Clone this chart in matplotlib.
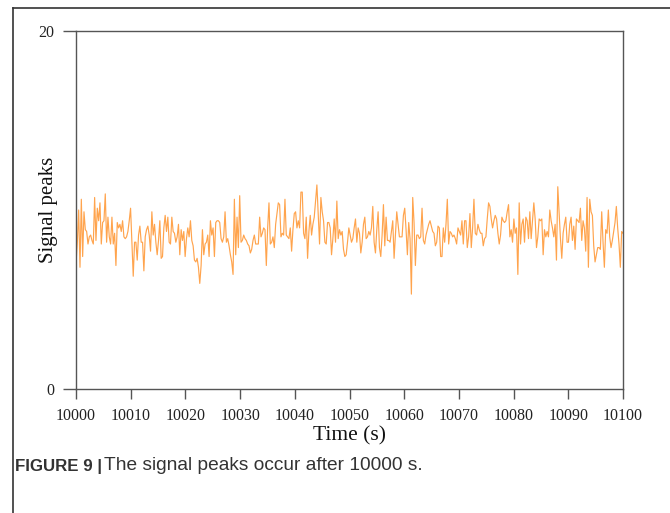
import numpy as np
import matplotlib
matplotlib.use("Agg")
import matplotlib.pyplot as plt
from matplotlib.lines import Line2D

# ---- data ----
t_start, t_end = 10000, 10100
signal_a = [
    7.0, 8.2, 10.0, 6.8, 10.6, 7.4, 9.9, 8.9, 8.8, 8.1,
    8.5, 8.6, 8.3, 8.1, 10.7, 8.3, 10.1, 9.4, 10.4, 8.1,
    9.3, 9.4, 10.9, 8.2, 9.6, 8.5, 8.1, 9.6, 8.1, 8.7,
    6.9, 9.3, 9.0, 9.2, 8.8, 9.4, 8.5, 8.4, 8.5, 8.8,
    9.4, 10.1, 8.2, 6.3, 8.2, 8.2, 7.2, 8.6, 9.1, 8.2,
    8.2, 6.6, 8.5, 8.9, 9.1, 8.6, 7.7, 9.9, 8.6, 9.2,
    8.2, 7.5, 8.3, 9.4, 7.3, 7.4, 9.0, 9.7, 8.8, 9.6,
    8.2, 8.1, 9.6, 8.8, 8.7, 8.2, 8.5, 9.2, 7.5, 8.9,
    8.3, 8.8, 7.4, 8.4, 9.0, 8.5, 9.4, 8.3, 8.0, 7.2,
    7.1, 7.3, 6.8, 5.9, 6.9, 8.9, 7.5, 8.1, 8.2, 8.6,
    7.4, 9.4, 8.6, 9.0, 7.4, 9.3, 9.4, 9.4, 9.3, 8.4,
    8.2, 8.5, 9.9, 8.2, 8.4, 8.0, 7.5, 7.1, 6.4, 10.6,
    7.5, 9.6, 7.9, 10.8, 8.2, 8.3, 8.6, 8.4, 8.3, 8.1,
    8.0, 7.6, 7.8, 8.3, 8.6, 8.1, 8.1,
]
signal_b = [
    8.1, 9.6, 8.5, 8.7, 9.0, 8.9, 6.9, 9.0, 10.4, 8.1,
    8.2, 8.5, 7.9, 9.2, 9.8, 10.4, 10.3, 8.5, 8.7, 8.6,
    10.6, 8.6, 8.5, 8.4, 9.0, 7.7, 8.9, 9.8, 9.9, 9.0,
    9.4, 9.0, 11.0, 11.0, 8.7, 8.4, 9.6, 7.3, 8.8, 9.7,
    8.6, 9.2, 9.6, 10.5, 11.4, 9.7, 8.1, 10.7, 9.9, 9.4,
    8.2, 8.1, 9.3, 9.3, 9.0, 7.5, 8.4, 9.5, 8.2, 10.5,
    8.4, 8.9, 8.6, 8.8, 7.8, 7.4, 7.5, 8.2, 9.0, 8.6,
    8.2, 8.4, 9.0, 9.5, 8.2, 9.0, 8.7, 7.6, 8.2, 9.2,
    9.6, 8.4, 8.5, 8.8, 8.6, 9.0, 10.2, 8.2, 7.6, 8.9,
    9.9, 7.9, 7.4, 8.6, 10.3, 8.0, 9.6, 8.3, 8.3, 8.2,
    8.8, 9.4, 7.3, 8.6, 9.9, 9.2, 8.5, 8.5, 8.5, 9.7,
    10.1, 8.9, 7.5, 9.3, 8.4, 5.3, 10.7, 9.3, 6.9, 8.6,
    8.6, 8.4, 8.5, 10.1, 8.3, 8.1, 8.6, 8.9, 9.2, 9.4,
    9.1, 8.8, 8.7, 8.0, 8.2, 9.1, 9.0, 7.4,
]
signal_c = [
    7.4, 9.0, 8.2, 9.2, 10.6, 8.1, 8.8, 8.7, 8.5, 8.6,
    8.4, 8.1, 9.0, 8.8, 8.6, 9.4, 8.1, 9.4, 9.4, 7.9,
    8.5, 9.8, 7.9, 9.0, 10.6, 8.7, 8.6, 9.2, 8.9, 8.7,
    8.7, 8.0, 8.4, 8.5, 9.5, 10.4, 10.2, 9.5, 9.0, 9.4,
    9.7, 9.5, 8.7, 8.1, 8.6, 9.6, 9.4, 9.3, 9.4, 9.9,
    10.3, 8.5, 8.9, 8.2, 9.5, 8.7, 9.0, 6.4, 10.4, 8.1,
    9.2, 9.5, 8.2, 9.6, 9.4, 8.4, 9.9, 8.4, 9.4, 10.4,
    9.5, 7.9, 8.5, 9.5, 9.4, 9.5, 7.5, 8.9, 8.5, 8.8,
    8.5, 10.0, 9.4, 9.0, 8.5, 9.2, 7.2, 11.3, 9.8, 8.4,
    7.3, 8.7, 9.2, 9.6, 8.2, 8.2, 9.2, 9.6, 8.3, 9.1,
    7.8, 9.5, 9.4, 9.3, 10.1, 8.3, 9.4, 9.0, 7.7, 10.7,
    6.8, 10.6, 9.9, 9.7, 8.0, 7.1, 7.5, 7.9, 7.9, 7.8,
    9.9, 8.2, 6.8, 8.9, 8.7, 10.0, 8.5, 7.9, 8.3, 8.8,
    9.3, 10.2, 9.0, 8.1, 6.8, 8.8, 8.7,
]
signal = signal_a + signal_b + signal_c
time = np.linspace(t_start, t_end, len(signal))

x_ticks = [10000, 10010, 10020, 10030, 10040, 10050, 10060, 10070, 10080, 10090, 10100]
y_ticks = [0, 20]
x_label = "Time (s)"
y_label = "Signal peaks"
caption_bold = "FIGURE 9 |"
caption_text = "The signal peaks occur after 10000 s."

# ---- figure ----
W, H = 670, 513
fig = plt.figure(figsize=(W / 100, H / 100), dpi=100)
ax = fig.add_axes([76 / W, 1 - 389 / H, (623 - 76) / W, (389 - 31) / H])

ax.plot(time, signal, color="#ff9a3a", lw=0.85, alpha=0.9)

ax.set_xlim(t_start, t_end)
ax.set_ylim(0, 20)
ax.set_xticks(x_ticks)
ax.set_yticks(y_ticks)

serif = ["Liberation Serif", "DejaVu Serif"]
spine_col = "#555555"
for s in ax.spines.values():
    s.set_color(spine_col)
    s.set_linewidth(1.0)
ax.tick_params(axis="x", direction="out", length=7, width=1, color=spine_col, pad=7)
ax.tick_params(axis="y", direction="out", length=9.5, width=1, color=spine_col, pad=6)
for lab in ax.get_xticklabels() + ax.get_yticklabels():
    lab.set_fontfamily(serif)
    lab.set_fontsize(11.5)
    lab.set_color("#222222")

ax.set_xlabel(x_label, fontfamily=serif, fontsize=15.5, labelpad=1, color="#111111")
ax.set_ylabel(y_label, fontfamily=serif, fontsize=15, color="#111111")
ax.yaxis.set_label_coords(-0.033, 0.5)

# figure frame (partial box like the reference)
fig.add_artist(Line2D([13 / W, 13 / W], [0, 1 - 8 / H], transform=fig.transFigure,
                      color="#333333", lw=1.2))
fig.add_artist(Line2D([13 / W, 1], [1 - 8 / H, 1 - 8 / H], transform=fig.transFigure,
                      color="#333333", lw=1.2))

# caption
fig.text(15 / W, 1 - 466 / H, caption_bold, fontfamily=["Liberation Sans", "DejaVu Sans"],
         fontweight="bold", fontsize=12.2, va="center", ha="left", color="#333333")
fig.text(104 / W, 1 - 466 / H, caption_text, fontfamily=["Liberation Sans", "DejaVu Sans"],
         fontsize=13.8, va="center", ha="left", color="#333333")

fig.savefig("out.png", dpi=100)
